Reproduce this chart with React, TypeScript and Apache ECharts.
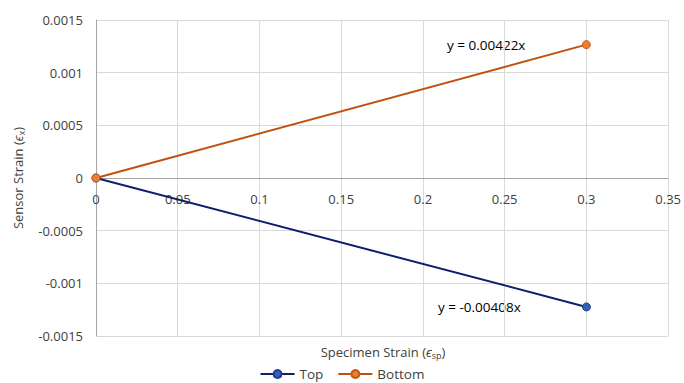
import React, { useEffect, useRef } from "react";
import * as echarts from "echarts";

const topData: [number, number][] = [
  [0, 0],
  [0.3, -0.001224],
];
const bottomData: [number, number][] = [
  [0, 0],
  [0.3, 0.001266],
];
const seriesNames = ["Top", "Bottom"];
const trendLabels = ["y = -0.00408x", "y = 0.00422x"];

const FONT = "'Open Sans', 'Liberation Sans', sans-serif";
const TXT = "#404040";

export default function App() {
  const ref = useRef<HTMLDivElement>(null);
  useEffect(() => {
    if (!ref.current) return;
    const chart = echarts.init(ref.current, null, { renderer: "svg" });
    const richStyles = {
      it: { fontSize: 13, fontStyle: "italic", fill: TXT, color: TXT, fontFamily: FONT },
      sub: { fontSize: 9, fill: TXT, color: TXT, fontFamily: FONT, padding: [6, 0, 0, 0] },
    };
    chart.setOption({
      animation: false,
      backgroundColor: "#ffffff",
      textStyle: { fontFamily: FONT },
      grid: { left: 96, right: 14, top: 20, bottom: 47, containLabel: false },
      legend: {
        bottom: -3,
        left: "center",
        itemWidth: 34,
        itemHeight: 10,
        itemGap: 14,
        data: seriesNames,
        textStyle: { fontSize: 13.5, color: TXT, fontFamily: FONT },
      },
      xAxis: {
        type: "value",
        min: 0,
        max: 0.35,
        interval: 0.05,
        offset: -158,
        axisLine: { show: true, onZero: false, lineStyle: { color: "#a6a6a6", width: 1 } },
        axisTick: { show: false },
        axisLabel: { color: TXT, fontSize: 13, margin: 14, fontFamily: FONT },
        splitLine: { show: true, lineStyle: { color: "#d9d9d9", width: 1 } },
      },
      yAxis: {
        type: "value",
        min: -0.0015,
        max: 0.0015,
        interval: 0.0005,
        axisLine: { show: true, lineStyle: { color: "#a6a6a6", width: 1 } },
        axisTick: { show: false },
        axisLabel: { color: TXT, fontSize: 13, margin: 13, fontFamily: FONT },
        splitLine: { show: true, lineStyle: { color: "#d9d9d9", width: 1 } },
      },
      graphic: [
        {
          type: "text",
          x: 383,
          y: 352,
          style: {
            text: "Specimen Strain ({it|ϵ}{sub|sp})",
            fill: TXT,
            fontSize: 13,
            fontFamily: FONT,
            align: "center",
            verticalAlign: "middle",
            rich: richStyles,
          } as any,
        },
        {
          type: "text",
          x: 18,
          y: 178,
          rotation: Math.PI / 2,
          style: {
            text: "Sensor Strain ({it|ϵ}{sub|x})",
            fill: TXT,
            fontSize: 13,
            fontFamily: FONT,
            align: "center",
            verticalAlign: "middle",
            rich: richStyles,
          } as any,
        },
        {
          type: "text",
          x: 447,
          y: 45,
          style: {
            text: trendLabels[1],
            fill: "#000000",
            fontSize: 13.5,
            fontFamily: FONT,
            verticalAlign: "middle",
          },
        },
        {
          type: "text",
          x: 438,
          y: 307,
          style: {
            text: trendLabels[0],
            fill: "#000000",
            fontSize: 13.5,
            fontFamily: FONT,
            verticalAlign: "middle",
          },
        },
      ],
      series: [
        {
          name: seriesNames[0],
          type: "line",
          data: topData,
          symbol: "circle",
          symbolSize: 8,
          lineStyle: { color: "#0d1f6e", width: 2 },
          itemStyle: { color: "#3561b4", borderColor: "#1f3f8a", borderWidth: 1 },
        },
        {
          name: seriesNames[1],
          type: "line",
          data: bottomData,
          symbol: "circle",
          symbolSize: 8,
          lineStyle: { color: "#c0500f", width: 2 },
          itemStyle: { color: "#ed7d31", borderColor: "#c55a11", borderWidth: 1 },
        },
      ],
    });
    return () => chart.dispose();
  }, []);
  return <div ref={ref} style={{ width: 684, height: 383, position: "absolute", left: 0, top: 0 }} />;
}
